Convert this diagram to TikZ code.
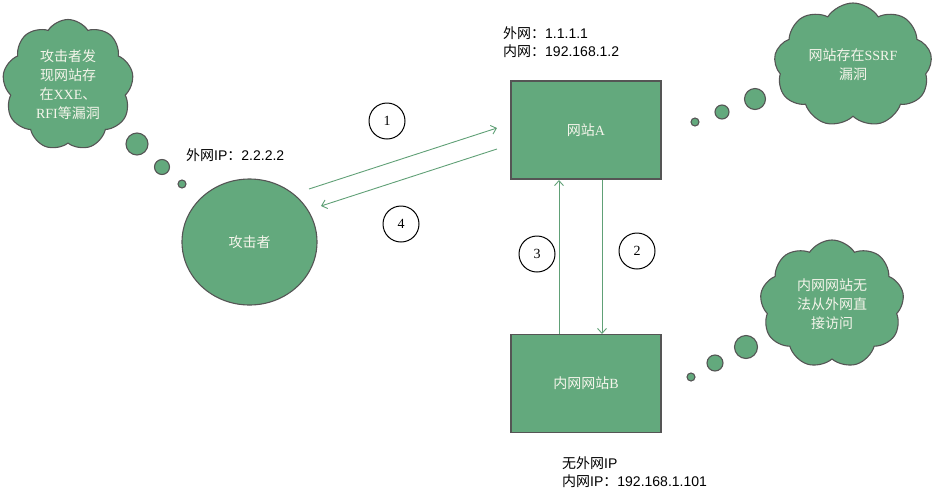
\documentclass[tikz,border=0pt]{standalone}
\usepackage{fontspec}
\setmainfont{Liberation Serif}
\newfontfamily\cjk{Noto Sans CJK SC}
\newfontfamily\arial{Liberation Sans}
\usetikzlibrary{shapes.symbols,shapes.geometric,arrows.meta}
\definecolor{gfill}{RGB}{99,169,125}
\definecolor{gline}{RGB}{96,160,118}
\definecolor{gborder}{RGB}{85,85,85}
\definecolor{wtext}{RGB}{245,245,235}
\tikzset{
  greenbox/.style={draw=gborder,line width=1.3pt,fill=gfill,minimum width=150pt,minimum height=98pt,inner sep=0pt,text=wtext,font=\fontsize{14}{16}\selectfont},
  thought/.style={cloud,cloud puffs=9,cloud puff arc=115,cloud ignores aspect,draw=gborder,line width=1.1pt,fill=gfill,inner sep=0pt,text=wtext,align=center,font=\fontsize{14}{19}\selectfont},
  bubble/.style={circle,draw=gborder,line width=1.1pt,fill=gfill,inner sep=0pt},
  stepnum/.style={circle,draw=black,line width=1pt,fill=white,minimum size=36pt,inner sep=0pt,font=\fontsize{14}{16}\selectfont},
  info/.style={anchor=west,align=left,inner sep=0pt,font=\fontsize{14}{18}\selectfont},
  flow/.style={draw=gline,line width=0.9pt,-{Straight Barb[length=5pt,width=9pt]}}
}
\begin{document}
\begin{tikzpicture}[x=1pt,y=-1pt]
\useasboundingbox (0,0) rectangle (938,491);
% attacker
\node[ellipse,draw=gborder,line width=1.1pt,fill=gfill,minimum width=135pt,minimum height=126pt,inner sep=0pt,text=wtext,font=\fontsize{14}{16}\selectfont] (att) at (249.5,242) {\cjk 攻击者};
\node[info] (attip) at (186,155) {{\cjk 外网}\arial IP{\cjk ：}2.2.2.2};
% boxes
\node[greenbox] (A) at (586,130) {{\cjk 网站}A};
\node[greenbox] (B) at (586,383.5) {{\cjk 内网网站}B};
\node[info] (Aip) at (503,42) {{\cjk 外网：}\arial 1.1.1.1\\{\cjk 内网：}\arial 192.168.1.2};
\node[info] (Bip) at (562,472) {{\cjk 无外网}\arial IP\\{\cjk 内网}\arial IP{\cjk ：}192.168.1.101};
% arrows 1 and 4
\coordinate (a1s) at (309,189);
\coordinate (a1e) at (497,128);
\coordinate (a4s) at (497,149);
\coordinate (a4e) at (321,206);
\draw[flow] (a1s) -- (a1e);
\draw[flow] (a4s) -- (a4e);
% arrows 2 and 3
\coordinate (b3s) at (559,334);
\coordinate (b3e) at (559,180);
\coordinate (b2s) at (602,180);
\coordinate (b2e) at (602,334);
\draw[flow] (b3s) -- (b3e);
\draw[flow] (b2s) -- (b2e);
% step numbers
\node[stepnum] (n1) at (387,121) {1};
\node[stepnum] (n4) at (401,224) {4};
\node[stepnum] (n3) at (537,254) {3};
\node[stepnum] (n2) at (637,251) {2};
% clouds
\node[thought,minimum width=131pt,minimum height=131pt] (c1) at (68,85) {\cjk 攻击者发\\\cjk 现网站存\\\cjk 在\rmfamily XXE\cjk 、\\\rmfamily RFI\cjk 等漏洞};
\node[bubble,minimum size=22pt] (c1b1) at (137,144) {};
\node[bubble,minimum size=15pt] (c1b2) at (162,167) {};
\node[bubble,minimum size=8pt] (c1b3) at (182,184) {};
\node[thought,minimum width=158pt,minimum height=124pt] (c2) at (853,65) {{\cjk 网站存在}SSRF\\\cjk 漏洞};
\node[bubble,minimum size=21pt] (c2b1) at (755,99) {};
\node[bubble,minimum size=14pt] (c2b2) at (722,112) {};
\node[bubble,minimum size=8pt] (c2b3) at (695,122) {};
\node[thought,minimum width=144pt,minimum height=128pt] (c3) at (832,304) {\cjk 内网网站无\\\cjk 法从外网直\\\cjk 接访问};
\node[bubble,minimum size=23pt] (c3b1) at (746,347) {};
\node[bubble,minimum size=16pt] (c3b2) at (715,363) {};
\node[bubble,minimum size=8pt] (c3b3) at (691,377) {};
\end{tikzpicture}
\end{document}
